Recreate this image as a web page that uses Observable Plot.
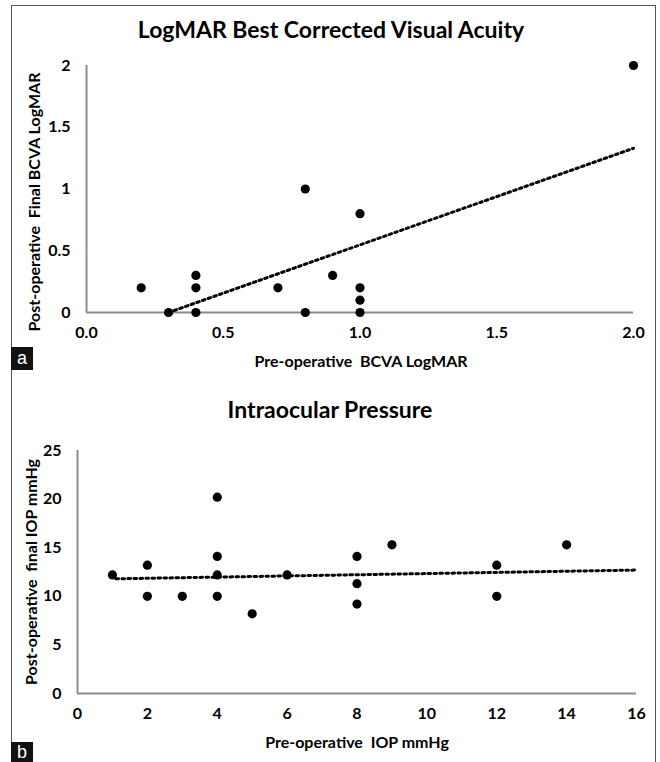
<!DOCTYPE html>
<html><head><meta charset="utf-8">
<script src="https://cdn.jsdelivr.net/npm/d3@7"></script>
<script src="https://cdn.jsdelivr.net/npm/@observablehq/plot@0.6"></script>
<style>
body{margin:0;background:#fff;}
#root{position:relative;width:660px;height:762px;overflow:hidden;font-family:Lato,"Open Sans",sans-serif;color:#000;}
.frame{position:absolute;left:11px;top:5px;width:645px;height:800px;border:1.5px solid #555;box-sizing:border-box;}
.lbl{position:absolute;transform:translate(-50%,-50%);white-space:pre;line-height:1;}
.ttl{font-size:23px;font-weight:700;letter-spacing:0;}
.ax{font-size:16px;font-weight:700;letter-spacing:0;}
.rot{transform:translate(-50%,-50%) rotate(-90deg);}
.badge{position:absolute;left:11px;width:22px;background:#111;color:#fff;font-family:"Liberation Sans",Arial,sans-serif;font-size:18px;text-align:center;overflow:hidden;}
.panel{position:absolute;left:0;}
</style></head><body><div id="root"><div class="frame"></div></div>
<script>
// Panel a: LogMAR BCVA
const bcvaPre  = [0.2, 0.3, 0.4, 0.4, 0.4, 0.7, 0.8, 0.8, 0.9, 1.0, 1.0, 1.0, 1.0, 2.0];
const bcvaPost = [0.2, 0.0, 0.3, 0.2, 0.0, 0.2, 1.0, 0.0, 0.3, 0.8, 0.2, 0.1, 0.0, 2.0];
const bcvaTrendX = [0.3, 2.0];
const bcvaTrendY = [0.0, 1.33];
const bcvaXTicks = [0, 0.5, 1.0, 1.5, 2.0];
const bcvaYTicks = [0, 0.5, 1, 1.5, 2];

// Panel b: IOP
const iopPre  = [1, 2, 2, 3, 4, 4, 4, 4, 5, 6, 8, 8, 8, 9, 12, 12, 14];
const iopPost = [12.2, 13.2, 10, 10, 20.2, 14.1, 12.2, 10, 8.2, 12.2, 14.1, 11.3, 9.2, 15.3, 13.2, 10, 15.3];
const iopTrendX = [1.1, 16];
const iopTrendY = [11.8, 12.7];
const iopXTicks = [0, 2, 4, 6, 8, 10, 12, 14, 16];
const iopYTicks = [0, 5, 10, 15, 20, 25];

const root = document.getElementById("root");
function addLabel(text, cx, cy, cls) {
  const d = document.createElement("div");
  d.className = "lbl " + cls;
  d.style.left = cx + "px"; d.style.top = cy + "px";
  d.textContent = text;
  root.appendChild(d);
}
function addBadge(text, top, h) {
  const d = document.createElement("div");
  d.className = "badge";
  d.style.top = top + "px"; d.style.height = h + "px"; d.style.lineHeight = h + "px";
  d.textContent = text;
  root.appendChild(d);
}
const style = {fontFamily: "Lato, 'Open Sans', sans-serif", fontSize: "16px", fontWeight: "700", color: "#000", background: "transparent", overflow: "visible"};
const axisGray = "#8c8c8c";

function scatter(opts) {
  const pts = opts.px.map((x, i) => ({x, y: opts.py[i]}));
  const trend = opts.tx.map((x, i) => ({x, y: opts.ty[i]}));
  return Plot.plot({
    width: 660, height: opts.height,
    marginLeft: opts.ml, marginRight: opts.mr, marginTop: opts.mt, marginBottom: opts.mb,
    style,
    x: {domain: opts.xd}, y: {domain: opts.yd},
    marks: [
      Plot.ruleY([opts.yd[0]], {stroke: axisGray, strokeWidth: 2}),
      Plot.ruleX([opts.xd[0]], {stroke: axisGray, strokeWidth: 2}),
      Plot.axisX({ticks: opts.xt, tickSize: 0, tickPadding: 14, tickFormat: opts.xf, label: null}),
      Plot.axisY({ticks: opts.yt, tickSize: 0, tickPadding: 16, tickFormat: d => String(d), label: null}),
      Plot.line(trend, {x: "x", y: "y", stroke: "#000", strokeWidth: 3, strokeDasharray: "2.6,3.4"}),
      Plot.dot(pts, {x: "x", y: "y", r: 4.6, fill: "#000", stroke: "none"})
    ]
  });
}

const a = scatter({px: bcvaPre, py: bcvaPost, tx: bcvaTrendX, ty: bcvaTrendY, height: 380,
  ml: 86, mr: 27, mt: 65, mb: 68, xd: [0, 2], yd: [0, 2], xt: bcvaXTicks, yt: bcvaYTicks, xf: d => d.toFixed(1)});
a.classList.add("panel"); a.style.top = "0px"; a.style.position = "absolute";
root.appendChild(a);

const b = scatter({px: iopPre, py: iopPost, tx: iopTrendX, ty: iopTrendY, height: 382,
  ml: 77, mr: 24, mt: 70, mb: 69, xd: [0, 16], yd: [0, 25], xt: iopXTicks, yt: iopYTicks, xf: d => String(d)});
b.classList.add("panel"); b.style.top = "380px"; b.style.position = "absolute";
root.appendChild(b);

addLabel("LogMAR Best Corrected Visual Acuity", 331, 29, "ttl");
addLabel("Pre-operative  BCVA LogMAR", 361, 361, "ax");
addLabel("Post-operative  Final BCVA LogMAR", 34, 202, "ax rot");
addLabel("Intraocular Pressure", 330, 409, "ttl");
addLabel("Pre-operative  IOP mmHg", 357, 742, "ax");
addLabel("Post-operative  final IOP mmHg", 31, 572, "ax rot");
addBadge("a", 347, 23);
addBadge("b", 742, 20);
</script>
</body></html>
